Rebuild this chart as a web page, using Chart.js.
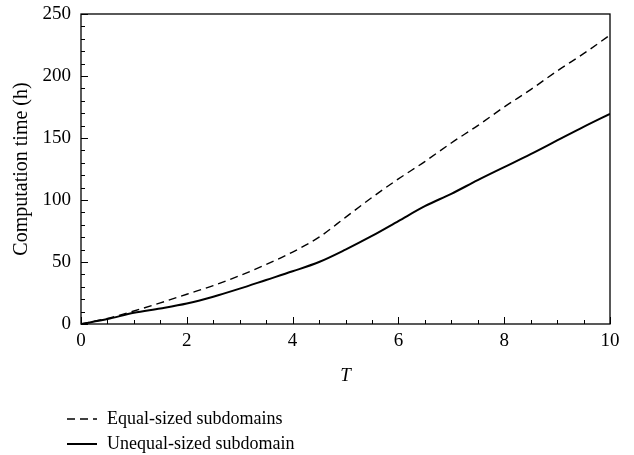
<!DOCTYPE html>
<html>
<head>
<meta charset="utf-8">
<script src="https://cdn.jsdelivr.net/npm/chart.js@4"></script>
<style>
  html, body { margin: 0; padding: 0; background: #fff; }
  #wrap { width: 634px; height: 455px; }
</style>
</head>
<body>
<div id="wrap"><canvas id="myChart"></canvas></div>
<script>
// computation time vs T for the two partitionings
const tValues = [0, 0.5, 1, 1.5, 2, 2.5, 3, 3.5, 4, 4.5, 5, 5.5, 6, 6.5, 7, 7.5, 8, 8.5, 9, 9.5, 10];
const equalSized = [0, 4.5, 10.5, 17, 24, 31, 39, 48, 58, 70, 86, 102, 117, 131, 146, 160, 175, 189, 204, 218, 233];
const unequalSized = [0, 4, 9, 12.5, 16.5, 22, 28.5, 35.5, 42.5, 50, 60, 71, 83, 95, 105, 116, 126.5, 137, 148, 159, 169.5];
const seriesNames = ['Equal-sized subdomains', 'Unequal-sized subdomain'];

const serif = 'Liberation Serif, Times New Roman, serif';
Chart.defaults.font.family = serif;
Chart.defaults.color = '#000';

function toPoints(ys) {
    return tValues.map((t, i) => ({ x: t, y: ys[i] }));
}

// inward ticks, closed frame and a stacked legend under the axis
const framePlugin = {
    id: 'frame',
    afterDraw(chart) {
        const ctx = chart.ctx;
        const { left, right, top, bottom } = chart.chartArea;
        const x = chart.scales.x, y = chart.scales.y;
        ctx.save();
        ctx.strokeStyle = '#000';
        ctx.lineWidth = 1.3;
        ctx.strokeRect(left, top, right - left, bottom - top);
        ctx.lineWidth = 1;
        ctx.beginPath();
        for (const t of x.ticks) {
            const px = Math.round(x.getPixelForValue(t.value)) + 0.5;
            const len = t.value % 2 === 0 ? 7 : 4;
            ctx.moveTo(px, bottom);
            ctx.lineTo(px, bottom - len);
        }
        for (const t of y.ticks) {
            const py = Math.round(y.getPixelForValue(t.value)) + 0.5;
            const len = t.value % 50 === 0 ? 7 : 4;
            ctx.moveTo(left, py);
            ctx.lineTo(left + len, py);
        }
        ctx.stroke();

        ctx.font = '18px ' + serif;
        ctx.textBaseline = 'middle';
        ctx.fillStyle = '#000';
        chart.data.datasets.forEach((ds, i) => {
            const ly = 419 + i * 25;
            ctx.beginPath();
            ctx.setLineDash(ds.borderDash || []);
            ctx.lineWidth = ds.borderWidth;
            ctx.moveTo(67, ly);
            ctx.lineTo(97, ly);
            ctx.stroke();
            ctx.setLineDash([]);
            ctx.fillText(ds.label, 107, ly);
        });
        ctx.restore();
    }
};

const ctx = document.getElementById('myChart');
new Chart(ctx, {
    type: 'line',
    data: {
        datasets: [{
            label: seriesNames[0],
            data: toPoints(equalSized),
            borderColor: '#000',
            borderWidth: 1.4,
            borderDash: [8, 5],
            pointRadius: 0,
            cubicInterpolationMode: 'monotone'
        }, {
            label: seriesNames[1],
            data: toPoints(unequalSized),
            borderColor: '#000',
            borderWidth: 2,
            pointRadius: 0,
            cubicInterpolationMode: 'monotone'
        }]
    },
    options: {
        responsive: true,
        maintainAspectRatio: false,
        animation: false,
        layout: { padding: { left: 0, right: 24, top: 14, bottom: 0 } },
        plugins: {
            legend: { display: false },
            tooltip: { enabled: false }
        },
        scales: {
            x: {
                type: 'linear',
                min: 0,
                max: 10,
                afterFit(scale) { scale.height = 131; },
                grid: { drawOnChartArea: false, drawTicks: false },
                border: { display: false },
                ticks: {
                    stepSize: 0.5,
                    autoSkip: false,
                    maxRotation: 0,
                    padding: 6,
                    font: { size: 19 },
                    callback: v => (v % 2 === 0 ? v : '')
                },
                title: {
                    display: true,
                    text: 'T',
                    font: { size: 19, style: 'italic' },
                    padding: { top: 0, bottom: 68 }
                }
            },
            y: {
                min: 0,
                max: 250,
                afterFit(scale) {
                    scale.width = 81;
                    scale.paddingTop = 0;
                },
                grid: { drawOnChartArea: false, drawTicks: false },
                border: { display: false },
                ticks: {
                    stepSize: 10,
                    autoSkip: false,
                    padding: 10,
                    font: { size: 19 },
                    callback: v => (v % 50 === 0 ? v : '')
                },
                title: {
                    display: true,
                    text: 'Computation time (h)',
                    font: { size: 20 },
                    padding: { top: 10, bottom: 0 }
                }
            }
        }
    },
    plugins: [framePlugin]
});
</script>
</body>
</html>
